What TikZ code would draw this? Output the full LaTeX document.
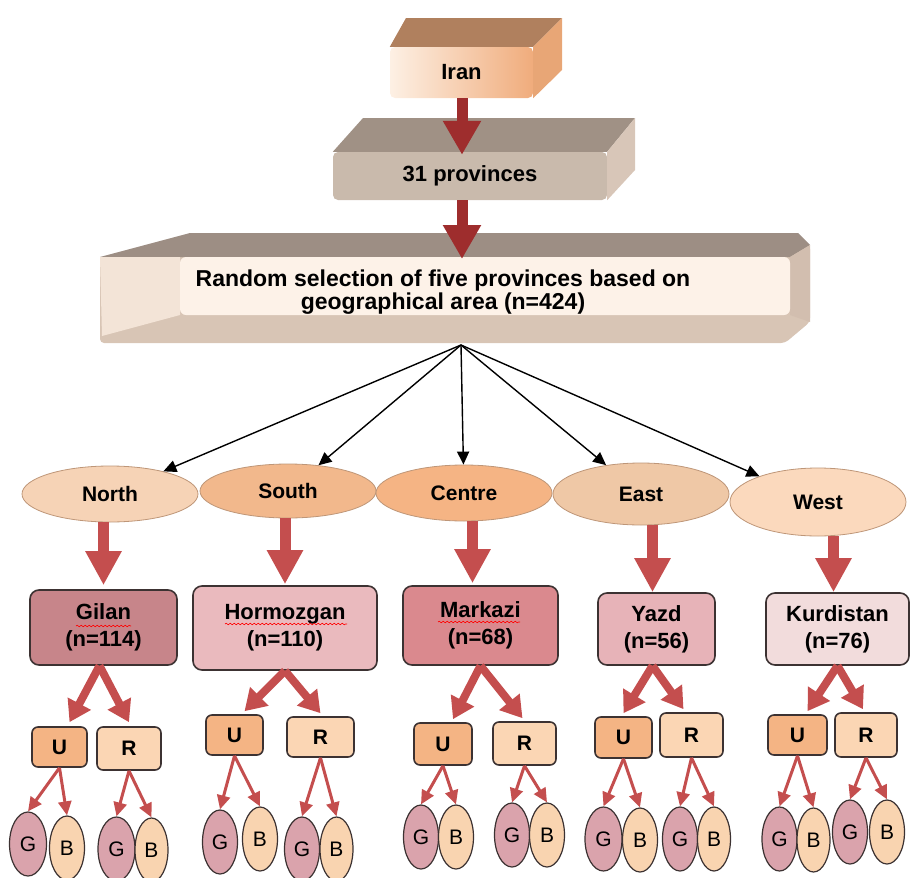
\documentclass[tikz,border=0pt]{standalone}
\usepackage{fontspec}
\setmainfont{Liberation Sans}
\usetikzlibrary{arrows.meta,shapes.geometric,decorations.pathmorphing}

% colours of the boxes
\definecolor{iranlight}{RGB}{253,240,228}
\definecolor{iranpeach}{RGB}{240,172,124}
\definecolor{irantop}{RGB}{176,128,94}
\definecolor{iranside}{RGB}{232,166,118}
\definecolor{provfront}{RGB}{201,186,172}
\definecolor{provtop}{RGB}{160,145,133}
\definecolor{provside}{RGB}{216,198,184}
\definecolor{seltop}{RGB}{157,142,132}
\definecolor{selleft}{RGB}{243,228,215}
\definecolor{selpanel}{RGB}{253,242,232}
\definecolor{selbottom}{RGB}{216,197,181}
\definecolor{selside}{RGB}{210,190,175}
\definecolor{northfill}{RGB}{246,211,182}
\definecolor{southfill}{RGB}{242,184,140}
\definecolor{centrefill}{RGB}{245,180,132}
\definecolor{eastfill}{RGB}{239,200,166}
\definecolor{westfill}{RGB}{251,217,189}
\definecolor{regionline}{RGB}{190,150,120}
\definecolor{gilanfill}{RGB}{199,133,138}
\definecolor{hormfill}{RGB}{234,186,190}
\definecolor{markfill}{RGB}{218,137,142}
\definecolor{yazdfill}{RGB}{231,179,184}
\definecolor{kurdfill}{RGB}{242,220,220}
\definecolor{boxline}{RGB}{60,50,50}
\definecolor{ufill}{RGB}{244,180,132}
\definecolor{rfill}{RGB}{251,214,180}
\definecolor{gfill}{RGB}{218,163,172}
\definecolor{bfill}{RGB}{249,212,176}
\definecolor{darkarrow}{RGB}{158,45,45}
\definecolor{redarrow}{RGB}{196,78,78}

\tikzset{
  frontbox/.style={rectangle, rounded corners=5pt, inner sep=0pt,
    font=\bfseries\fontsize{22}{24}\selectfont},
  region/.style={ellipse, draw=regionline, line width=0.8pt, inner sep=0pt,
    minimum width=176pt, minimum height=56pt,
    font=\bfseries\fontsize{21}{24}\selectfont},
  province/.style={rectangle, rounded corners=9pt, draw=boxline, line width=1.6pt,
    align=center, inner sep=0pt, font=\bfseries\fontsize{22}{27}\selectfont},
  area/.style={rectangle, rounded corners=6pt, draw=boxline, line width=1.6pt,
    inner sep=0pt, font=\bfseries\fontsize{21}{24}\selectfont},
  group/.style={ellipse, draw=boxline, line width=1.2pt, inner sep=0pt,
    minimum width=35pt, minimum height=64pt, font=\fontsize{21}{22}\selectfont},
  toparrow/.style={darkarrow, line width=11pt, -{Triangle[width=36pt,length=34pt]}},
  downarrow/.style={redarrow, line width=11pt, -{Triangle[width=34pt,length=34pt]}},
  splitarrow/.style={redarrow, line width=8pt, -{Triangle[width=25pt,length=21pt]}},
  thinarrow/.style={redarrow, line width=3pt, -{Triangle[width=13pt,length=14pt]}},
  fanarrow/.style={black, line width=1.4pt, -{Triangle[width=12pt,length=13pt]}},
  spell/.style={red, line width=0.6pt, decorate,
    decoration={snake, amplitude=0.8pt, segment length=4pt}}
}

\begin{document}
\begin{tikzpicture}[x=1pt,y=-1pt]
    \useasboundingbox (0,0) rectangle (911,878);

    % Iran box
    \node[frontbox, left color=iranlight, right color=iranpeach,
      minimum width=143pt, minimum height=51pt] (iran) at (461.5,72.5) {Iran};
    \fill[irantop] (iran.north west) -- (406,18) -- (562,18) -- (iran.north east) -- cycle;
    \fill[iranside] (iran.north east) -- (562,18) -- (562,70) -- (iran.south east) -- cycle;

    % 31 provinces box
    \node[frontbox, fill=provfront, minimum width=274pt, minimum height=48pt]
      (prov) at (470,176) {31 provinces};
    \fill[provtop] (prov.north west) -- (363,118) -- (635,118) -- (prov.north east) -- cycle;
    \fill[provside] (prov.north east) -- (635,118) -- (635,170) -- (prov.south east) -- cycle;

    % Random selection box
    \fill[selbottom, rounded corners=4pt] (100,257) -- (810,245) -- (810,322)
      -- (785,343) -- (100,343) -- cycle;
    \fill[seltop] (100,257) -- (190,233) -- (798,233) -- (810,245) -- (790,257) -- cycle;
    \fill[selleft] (100,257) -- (180,257) -- (180,315) -- (102,336) -- cycle;
    \fill[selside] (790,257) -- (810,245) -- (810,322) -- (790,315) -- cycle;
    \fill[selpanel, rounded corners=6pt] (180,257) -- (180,315) -- (790,315) -- (790,257) -- cycle;
    \node[align=center, font=\bfseries\fontsize{23}{23}\selectfont] (sel) at (443,292)
      {Random selection of five provinces based on\\geographical area (n=424)};
    \coordinate (selTop) at (462,259);
    \coordinate (fan) at (461,345);

    % Arrows between the top boxes
    \draw[toparrow] (iran.south -| 462,0) -- ([yshift=-3pt]prov.north -| 462,0);
    \draw[toparrow] (prov.south -| 462,0) -- (selTop);

    % Regions
    \node[region, fill=northfill] (north) at (110,494) {North};
    \node[region, fill=southfill, minimum height=54pt] (south) at (288,491) {South};
    \node[region, fill=centrefill] (centre) at (464,493) {Centre};
    \node[region, fill=eastfill, minimum height=62pt] (east) at (641,494) {East};
    \node[region, fill=westfill, minimum height=68pt] (west) at (818,502) {West};

    \foreach \r in {north,south,centre,east,west}
      \draw[fanarrow] (fan) -- (\r);

    % Provinces
    \node[province, fill=gilanfill, minimum width=147pt, minimum height=75pt]
      (gilan) at (103.5,627.5) {Gilan\\(n=114)};
    \node[province, fill=hormfill, minimum width=184pt, minimum height=84pt]
      (horm) at (285,628) {Hormozgan\\(n=110)};
    \node[province, fill=markfill, minimum width=155pt, minimum height=79pt]
      (mark) at (480.5,625.5) {Markazi\\(n=68)};
    \node[province, fill=yazdfill, minimum width=117pt, minimum height=72pt]
      (yazd) at (656.5,629) {Yazd\\(n=56)};
    \node[province, fill=kurdfill, minimum width=143pt, minimum height=72pt]
      (kurd) at (837.5,629) {Kurdistan\\(n=76)};

    % spelling marks under the names
    \draw[spell] (76,626) -- (131,626);
    \draw[spell] (225,624) -- (347,624);
    \draw[spell] (438,622) -- (520,622);

    \draw[downarrow] (gilan.north |- north.south) -- ([yshift=4pt]gilan.north);
    \draw[downarrow] (horm.north |- south.south) -- ([yshift=1pt]horm.north);
    \draw[downarrow] ([xshift=-8pt]mark.north |- centre.south) -- ([xshift=-8pt,yshift=2pt]mark.north);
    \draw[downarrow] ([xshift=-4pt]yazd.north |- east.south) -- ([xshift=-4pt]yazd.north);
    \draw[downarrow] ([xshift=-4pt]kurd.north |- west.south) -- ([xshift=-4pt]kurd.north);

    % Urban and rural
    \node[area, fill=ufill, minimum width=55pt, minimum height=40pt] (gu) at (59.5,747) {U};
    \node[area, fill=rfill, minimum width=64pt, minimum height=43pt] (gr) at (129,748.5) {R};
    \node[area, fill=ufill, minimum width=57pt, minimum height=40pt] (hu) at (234.5,735) {U};
    \node[area, fill=rfill, minimum width=67pt, minimum height=40pt] (hr) at (320.5,737) {R};
    \node[area, fill=ufill, minimum width=58pt, minimum height=42pt] (mu) at (443,744) {U};
    \node[area, fill=rfill, minimum width=63pt, minimum height=43pt] (mr) at (524.5,743.5) {R};
    \node[area, fill=ufill, minimum width=57pt, minimum height=41pt] (yu) at (623.5,737.5) {U};
    \node[area, fill=rfill, minimum width=63pt, minimum height=44pt] (yr) at (691.5,735) {R};
    \node[area, fill=ufill, minimum width=59pt, minimum height=40pt] (ku) at (797.5,735) {U};
    \node[area, fill=rfill, minimum width=62pt, minimum height=44pt] (kr) at (866,735) {R};

    \draw[splitarrow] ([xshift=-4pt]gilan.south) -- ([xshift=10pt,yshift=4pt]gu.north);
    \draw[splitarrow] ([xshift=-4pt]gilan.south) -- ([yshift=4pt]gr.north);
    \draw[splitarrow] (horm.south) -- ([xshift=10pt,yshift=3pt]hu.north);
    \draw[splitarrow] (horm.south) -- ([yshift=3pt]hr.north);
    \draw[splitarrow] (mark.south) -- ([xshift=10pt,yshift=3pt]mu.north);
    \draw[splitarrow] (mark.south) -- ([xshift=-2pt,yshift=3pt]mr.north);
    \draw[splitarrow] ([xshift=-4pt]yazd.south) -- ([yshift=3pt]yu.north);
    \draw[splitarrow] ([xshift=-4pt]yazd.south) -- ([xshift=-8pt,yshift=3pt]yr.north);
    \draw[splitarrow] (kurd.south) -- ([xshift=10pt,yshift=3pt]ku.north);
    \draw[splitarrow] (kurd.south) -- ([xshift=-3pt,yshift=3pt]kr.north);

    % Girls and boys
    \node[group, fill=gfill, minimum width=37pt] (gug) at (28,844) {G};
    \node[group, fill=bfill] (gub) at (67,848) {B};
    \node[group, fill=gfill, minimum width=37pt] (grg) at (116.5,849) {G};
    \node[group, fill=bfill, minimum width=33pt] (grb) at (151.5,850) {B};
    \node[group, fill=gfill] (hug) at (220,842) {G};
    \node[group, fill=bfill] (hub) at (260,839) {B};
    \node[group, fill=gfill] (hrg) at (302,849) {G};
    \node[group, fill=bfill, minimum width=33pt] (hrb) at (336.5,849) {B};
    \node[group, fill=gfill] (mug) at (421,837) {G};
    \node[group, fill=bfill] (mub) at (456,837) {B};
    \node[group, fill=gfill] (mrg) at (512,835) {G};
    \node[group, fill=bfill] (mrb) at (547,835) {B};
    \node[group, fill=gfill, minimum width=37pt] (yug) at (603.5,839) {G};
    \node[group, fill=bfill] (yub) at (640,840) {B};
    \node[group, fill=gfill] (yrg) at (680,839) {G};
    \node[group, fill=bfill, minimum width=33pt] (yrb) at (714,839) {B};
    \node[group, fill=gfill] (kug) at (779.5,839) {G};
    \node[group, fill=bfill, minimum width=33pt] (kub) at (813.5,840) {B};
    \node[group, fill=gfill] (krg) at (850,832) {G};
    \node[group, fill=bfill] (krb) at (887,832) {B};

    \foreach \a/\b in {gu/gug,gu/gub,gr/grg,gr/grb,hu/hug,hu/hub,hr/hrg,hr/hrb,
                       mu/mug,mu/mub,mr/mrg,mr/mrb,yu/yug,yu/yub,yr/yrg,yr/yrb,
                       ku/kug,ku/kub,kr/krg,kr/krb}
      \draw[thinarrow] (\a.south) -- (\b.north);
\end{tikzpicture}
\end{document}
